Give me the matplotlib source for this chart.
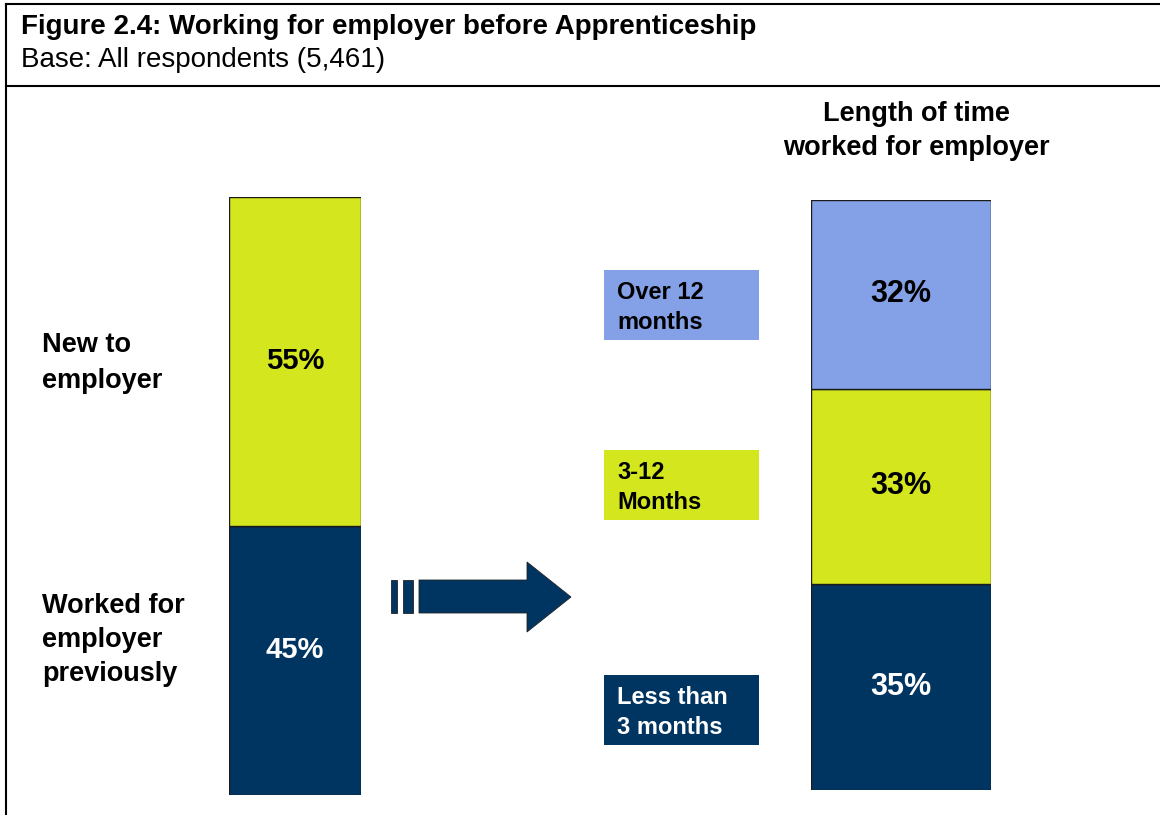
import matplotlib
matplotlib.use("Agg")
import matplotlib.pyplot as plt
from matplotlib.patches import Rectangle, Polygon

plt.rcParams['font.family'] = ['Liberation Sans', 'DejaVu Sans']

# data
left_labels = ["Worked for\nemployer\npreviously", "New to\nemployer"]
left_values = [45, 55]
right_labels = ["Less than\n3 months", "3-12\nMonths", "Over 12\nmonths"]
right_values = [35, 33, 32]

navy = '#003562'
lime = '#D4E61E'
blue = '#84A0E6'
left_colors = [navy, lime]
right_colors = [navy, lime, blue]
left_txt = ['white', 'black']
right_txt = ['white', 'black', 'black']

W, H = 1160, 815
fig = plt.figure(figsize=(W / 100, H / 100), dpi=100)

# page coords in pixels
ax = fig.add_axes([0, 0, 1, 1])
ax.set_xlim(0, W)
ax.set_ylim(H, 0)
ax.axis('off')

# frame
ax.plot([6, W], [4, 4], color='black', lw=1.5)
ax.plot([6, W], [86, 86], color='black', lw=1.5)
ax.plot([6, 6], [4, H], color='black', lw=1.5)

ax.text(21, 27, "Figure 2.4: Working for employer before Apprenticeship",
        fontsize=20, fontweight='bold', va='center', ha='left')
ax.text(21, 60, "Base: All respondents (5,461)", fontsize=20, va='center', ha='left')

ax.text(916, 131, "Length of time\nworked for employer", fontsize=19.5, fontweight='bold',
        ha='center', va='center', linespacing=1.4)

# side labels for left bar
ax.text(42, 363, left_labels[1], fontsize=19.5, fontweight='bold', ha='left', va='center',
        linespacing=1.45)
ax.text(42, 640, left_labels[0], fontsize=19.5, fontweight='bold', ha='left', va='center',
        linespacing=1.4)

# legend-style boxes
box_y = [675, 450, 270]
for lab, col, tc, y in zip(right_labels, right_colors, right_txt, box_y):
    ax.add_patch(Rectangle((604, y), 155, 70, facecolor=col, edgecolor='none'))
    ax.text(617, y + 37.5, lab, fontsize=17, fontweight='bold', color=tc, ha='left',
            va='center', linespacing=1.37)

# arrow
ax.add_patch(Rectangle((391, 580), 6, 33, facecolor=navy, edgecolor='#222222', lw=0.6))
ax.add_patch(Rectangle((403, 580), 10, 33, facecolor=navy, edgecolor='#222222', lw=0.6))
ax.add_patch(Polygon([(419, 580), (527, 580), (527, 562), (571, 597), (527, 632),
                      (527, 613), (419, 613)], closed=True, facecolor=navy,
                     edgecolor='#222222', lw=0.6))


def stacked(rect, values, colors, tcolors, fs, offsets):
    b = fig.add_axes(rect)
    b.set_xlim(-0.5, 0.5)
    b.set_ylim(0, 100)
    b.axis('off')
    bottom = 0
    for v, c, tc, off in zip(values, colors, tcolors, offsets):
        b.bar(0, v, width=1, bottom=bottom, color=c, edgecolor='#1a1a1a', lw=1)
        b.text(0, bottom + v / 2 + off, f"{v}%", fontsize=fs, fontweight='bold',
               color=tc, ha='center', va='center')
        bottom += v
    return b


stacked([229 / W, (H - 795) / H, 132 / W, 598 / H], left_values, left_colors,
        left_txt, 21, [1.7, 0])
stacked([811 / W, (H - 790) / H, 180 / W, 590 / H], right_values, right_colors,
        right_txt, 22, [0, 0, 0])

fig.savefig("out.png", dpi=100)
